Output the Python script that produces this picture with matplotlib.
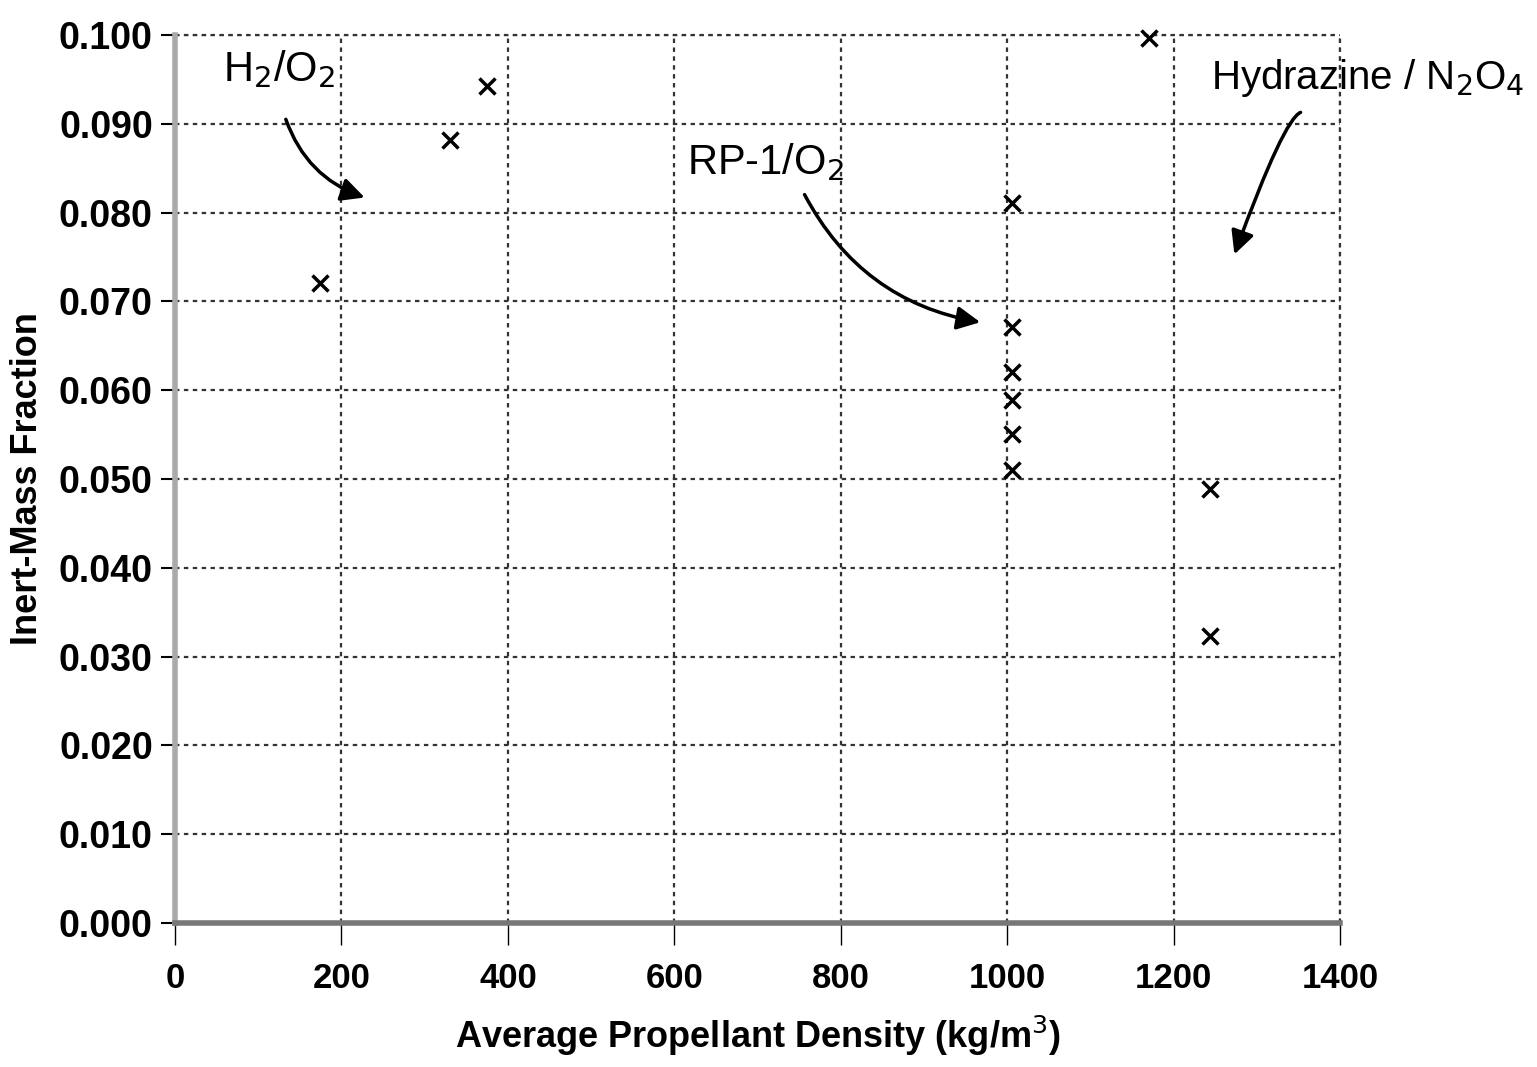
import matplotlib.pyplot as plt

plt.rcParams['font.family'] = ['Liberation Sans', 'DejaVu Sans']

# values
h2o2_density = [174, 330, 375]
h2o2_fraction = [0.0721, 0.0882, 0.0943]
rp1_density = [1006, 1006, 1006, 1006, 1006, 1006]
rp1_fraction = [0.0811, 0.0671, 0.0620, 0.0589, 0.0551, 0.0510]
hyd_density = [1171, 1244, 1244]
hyd_fraction = [0.0997, 0.0489, 0.0323]

x_ticks = [0, 200, 400, 600, 800, 1000, 1200, 1400]
y_ticks = [0.000, 0.010, 0.020, 0.030, 0.040, 0.050, 0.060, 0.070, 0.080, 0.090, 0.100]

fig = plt.figure(figsize=(15.37, 10.67), dpi=100)
ax = fig.add_axes([0.1139, 0.135, 0.7579, 0.8322])

dens = h2o2_density + rp1_density + hyd_density
frac = h2o2_fraction + rp1_fraction + hyd_fraction
ax.plot(dens, frac, linestyle='none', marker='x', color='black',
        markersize=11, markeredgewidth=2.5, clip_on=False, zorder=5)

ax.set_xlim(0, 1400)
ax.set_ylim(0, 0.100)
ax.set_xticks(x_ticks)
ax.set_yticks(y_ticks)
ax.set_xticklabels([str(t) for t in x_ticks], fontsize=25, fontweight='bold')
ax.set_yticklabels(['%.3f' % t for t in y_ticks], fontsize=27, fontweight='bold')
ax.tick_params(axis='y', direction='out', length=10, width=1.5, pad=6)
ax.tick_params(axis='x', direction='out', length=16, width=1, pad=12)

ax.grid(True, linestyle=(0, (2, 2)), color='#333333', linewidth=1.6)
ax.set_axisbelow(True)
for s in ['top', 'right']:
    ax.spines[s].set_visible(False)
# top/right border drawn dotted like the grid
ax.axhline(0.100, linestyle=(0, (2, 2)), color='#333333', linewidth=1.6, clip_on=False)
ax.axvline(1400, linestyle=(0, (2, 2)), color='#333333', linewidth=1.6, clip_on=False)
ax.spines['left'].set_color('#aaaaaa')
ax.spines['left'].set_linewidth(4)
ax.spines['bottom'].set_color('#777777')
ax.spines['bottom'].set_linewidth(4)

ax.set_xlabel('Average Propellant Density (kg/m$^3$)', fontsize=26, fontweight='bold', labelpad=14)
ax.set_ylabel('Inert-Mass Fraction', fontsize=26, fontweight='bold', labelpad=10)

arrow = dict(arrowstyle='-|>', color='black', lw=2.5, mutation_scale=35)

ax.text(125, 0.0962, 'H$_2$/O$_2$', fontsize=30, ha='center', va='center')
ax.annotate('', xy=(231, 0.0816), xytext=(132, 0.0908),
            arrowprops=dict(arrow, connectionstyle='arc3,rad=0.25'))

ax.text(709, 0.0857, 'RP-1/O$_2$', fontsize=30, ha='center', va='center')
ax.annotate('', xy=(971, 0.0676), xytext=(755, 0.0823),
            arrowprops=dict(arrow, connectionstyle='arc3,rad=0.25'))

ax.text(1433, 0.0952, 'Hydrazine / N$_2$O$_4$', fontsize=29, ha='center', va='center',
        clip_on=False)
ax.annotate('', xy=(1272, 0.0750), xytext=(1356, 0.0913),
            arrowprops=dict(arrow, connectionstyle='angle3,angleA=160,angleB=70'),
            annotation_clip=False)

fig.savefig('out.png', dpi=100)
